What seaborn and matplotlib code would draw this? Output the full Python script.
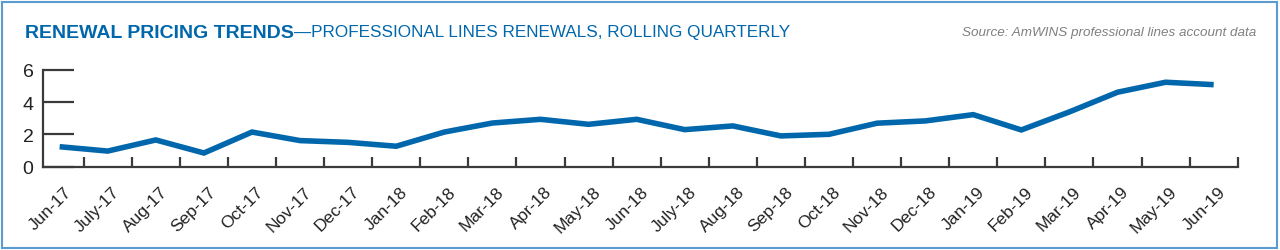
import matplotlib
matplotlib.use("Agg")
import matplotlib.pyplot as plt
from matplotlib.patches import Rectangle
from matplotlib.transforms import ScaledTranslation
import seaborn as sns
import pandas as pd
import numpy as np

months = ["Jun-17", "July-17", "Aug-17", "Sep-17", "Oct-17", "Nov-17", "Dec-17",
          "Jan-18", "Feb-18", "Mar-18", "Apr-18", "May-18", "Jun-18", "July-18",
          "Aug-18", "Sep-18", "Oct-18", "Nov-18", "Dec-18", "Jan-19", "Feb-19",
          "Mar-19", "Apr-19", "May-19", "Jun-19"]
values = [1.24, 0.97, 1.66, 0.85, 2.15, 1.62, 1.51, 1.27, 2.15, 2.71, 2.94, 2.63,
          2.94, 2.30, 2.53, 1.91, 2.01, 2.70, 2.84, 3.23, 2.28, 3.40, 4.62, 5.24, 5.09]
y_ticks = [0, 2, 4, 6]

title_bold = "RENEWAL PRICING TRENDS"
title_rest = "\u2014PROFESSIONAL LINES RENEWALS, ROLLING QUARTERLY"
source = "Source: AmWINS professional lines account data"

sns.set_theme(style="white")
plt.rcParams["font.family"] = ["Liberation Sans", "DejaVu Sans"]

BLUE = "#0067AC"
AXC = "#3a3a3a"
TXT = "#222222"

df = pd.DataFrame({"month": months, "value": values, "x": np.arange(len(months))})

fig = plt.figure(figsize=(12.8, 2.51), dpi=100)
ax = fig.add_axes([43.3 / 1280, (251 - 167.7) / 251, (1237.7 - 43.3) / 1280, (167.7 - 71) / 251])

sns.lineplot(data=df, x="x", y="value", ax=ax, color=BLUE, linewidth=4.0,
             solid_joinstyle="miter", solid_capstyle="butt")

ax.set_xlim(-0.34, len(months) - 0.55)
ax.set_ylim(0, 6)
ax.set_xlabel("")
ax.set_ylabel("")

for s in ["top", "right"]:
    ax.spines[s].set_visible(False)
for s in ["left", "bottom"]:
    ax.spines[s].set_color(AXC)
    ax.spines[s].set_linewidth(1.6)

ax.set_yticks(y_ticks)
ax.set_yticklabels([str(t) for t in y_ticks], fontsize=14, color=TXT)
ax.tick_params(axis="y", which="major", left=True, direction="in", length=22,
               width=1.6, color=AXC, pad=7)

ax.set_xticks(df["x"])
ax.set_xticklabels(months, rotation=45, ha="right", rotation_mode="anchor",
                   fontsize=12.5, color=TXT)
ax.tick_params(axis="x", which="major", bottom=True, length=0, pad=12)
ax.set_xticks(np.arange(len(months)) + 0.5, minor=True)
ax.tick_params(axis="x", which="minor", bottom=True, direction="in", length=7,
               width=1.6, color=AXC)
off = ScaledTranslation(4 / 100, 0, fig.dpi_scale_trans)
for lab in ax.get_xticklabels():
    lab.set_transform(lab.get_transform() + off)
ax.set_facecolor("none")

# title
ty = 1 - 33 / 251
t1 = fig.text(25 / 1280, ty, title_bold, fontsize=14, fontweight="bold",
              color=BLUE, va="center", ha="left")
fig.canvas.draw()
bb = t1.get_window_extent(renderer=fig.canvas.get_renderer())
fig.text(bb.x1 / 1280, ty, title_rest, fontsize=12.3, color=BLUE,
         va="center", ha="left")
fig.text(1256 / 1280, ty, source, fontsize=9.7, style="italic",
         color="#808080", va="center", ha="right")

# border
fig.patches.append(Rectangle((1.5 / 1280, 2.5 / 251), 1275 / 1280, 246 / 251,
                             transform=fig.transFigure, fill=False,
                             edgecolor="#5b9bd0", linewidth=1.5))

fig.savefig("out.png", dpi=100)
